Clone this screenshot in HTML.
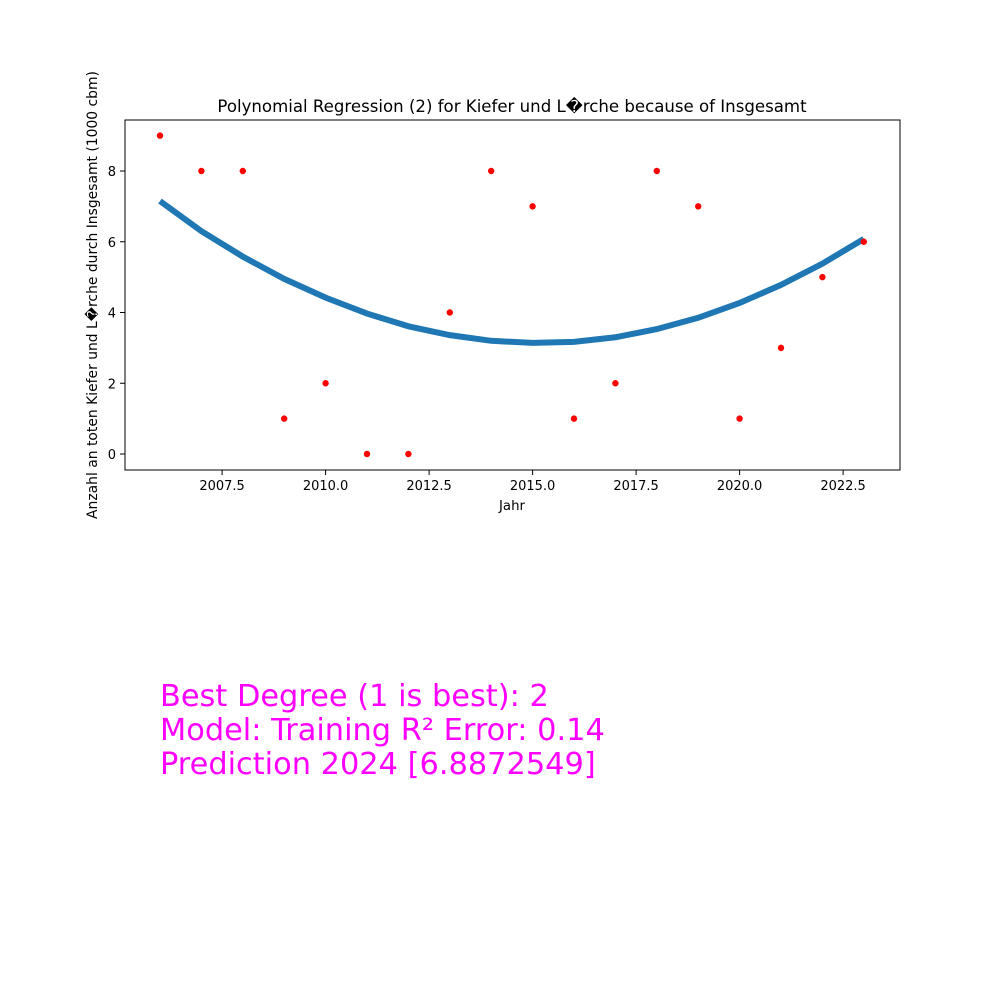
<!DOCTYPE html>
<html><head><meta charset="utf-8"><style>
body{margin:0;background:#fff;width:1000px;height:1000px;overflow:hidden;font-family:"DejaVu Sans","Liberation Sans",sans-serif}
svg{font-family:"DejaVu Sans","Liberation Sans",sans-serif}
</style></head><body>
<svg id="chart" width="1000" height="1000" xmlns="http://www.w3.org/2000/svg">
<text x="512" y="112" font-size="16.6" text-anchor="middle">Polynomial Regression (2) for Kiefer und L�rche because of Insgesamt</text>
<g id="axes"></g>
<g id="marks"></g>
<rect x="125" y="120" width="775" height="350" fill="none" stroke="#000" stroke-width="1"/>
<text x="512" y="510" font-size="13.3" text-anchor="middle">Jahr</text>
<text transform="translate(97,295) rotate(-90)" font-size="13.9" text-anchor="middle">Anzahl an toten Kiefer und L�rche durch Insgesamt (1000 cbm)</text>
<g font-size="30.4" fill="#ff00ff">
<text x="160" y="706">Best Degree (1 is best): 2</text>
<text x="160" y="740">Model: Training R² Error: 0.14</text>
<text x="160" y="774">Prediction 2024 [6.8872549]</text>
</g>
</svg>
<script>
const years=[2006,2007,2008,2009,2010,2011,2012,2013,2014,2015,2016,2017,2018,2019,2020,2021,2022,2023];
const actual=[9,8,8,1,2,0,0,4,8,7,1,2,8,7,1,3,5,6];
const fitted=[7.15,6.3,5.58,4.95,4.42,3.97,3.61,3.36,3.2,3.14,3.17,3.3,3.53,3.85,4.27,4.78,5.38,6.08];
const xTicks=[2007.5,2010.0,2012.5,2015.0,2017.5,2020.0,2022.5];
const yTicks=[0,2,4,6,8];
const NS="http://www.w3.org/2000/svg";
const X=v=>160+(v-2006)*41.4;
const Y=v=>454-v*35.375;
const axes=document.getElementById('axes'),marks=document.getElementById('marks');
function mk(tag,attrs,parent,txt){const e=document.createElementNS(NS,tag);for(const k in attrs)e.setAttribute(k,attrs[k]);if(txt!=null)e.textContent=txt;parent.appendChild(e);return e;}
xTicks.forEach(t=>{
 const l=mk('line',{x1:X(t),x2:X(t),y1:470,y2:475,stroke:'#000'},axes);
 
 
 const s=mk('text',{x:X(t),y:490,'font-size':13,'text-anchor':'middle'},axes,t.toFixed(1));
 
 
});
yTicks.forEach(t=>{
 const l=mk('line',{x1:120,x2:125,y1:Y(t),y2:Y(t),stroke:'#000'},axes);
 
 
 const s=mk('text',{x:116,y:Y(t)+5,'font-size':13,'text-anchor':'end'},axes,String(t));
 
 
});
const p=mk('polyline',{points:years.map((y,i)=>X(y)+','+Y(fitted[i])).join(' '),fill:'none',stroke:'#1f77b4','stroke-width':6},marks);


years.forEach((y,i)=>{
 const c=mk('circle',{cx:X(y),cy:Y(actual[i]),r:3.2,fill:'#ff0000'},marks);
 
 
});
</script>
</body></html>
